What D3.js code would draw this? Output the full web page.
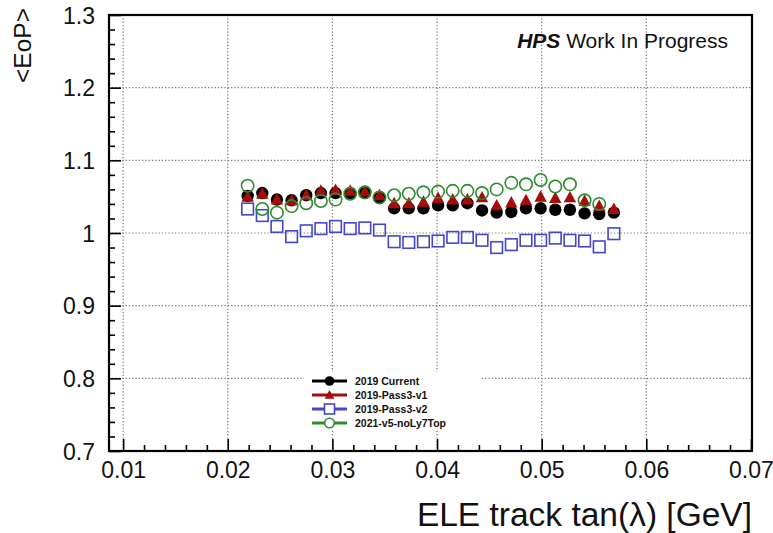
<!DOCTYPE html>
<html>
<head>
<meta charset="utf-8">
<script src="https://cdn.jsdelivr.net/npm/d3@7"></script>
<style>
  html, body { margin: 0; padding: 0; background: #fff; }
  svg { display: block; font-family: "Liberation Sans", Arial, Helvetica, sans-serif; }
</style>
</head>
<body>
<svg id="chart" width="773" height="533"></svg>
<script>
// Track tan(lambda) bin centres
const tanLambda = [0.0219, 0.0233, 0.0247, 0.0261, 0.0275, 0.0289, 0.0303, 0.0317, 0.0331, 0.0345,
                   0.0359, 0.0373, 0.0387, 0.0401, 0.0415, 0.0429, 0.0443, 0.0457, 0.0471, 0.0485,
                   0.0499, 0.0513, 0.0527, 0.0541, 0.0555, 0.0569];

// <E/p> per bin for each reconstruction pass
const current2019 = [1.051, 1.055, 1.046, 1.045, 1.052, 1.055, 1.055, 1.055, 1.055, 1.048,
                     1.034, 1.034, 1.034, 1.038, 1.038, 1.041, 1.031, 1.028, 1.029, 1.034,
                     1.034, 1.032, 1.032, 1.027, 1.026, 1.028];
const pass3v1 = [1.050, 1.054, 1.046, 1.045, 1.052, 1.058, 1.059, 1.058, 1.057, 1.052,
                 1.041, 1.041, 1.043, 1.048, 1.046, 1.046, 1.049, 1.038, 1.042, 1.045,
                 1.050, 1.048, 1.049, 1.044, 1.037, 1.033];
const pass3v2 = [1.033, 1.024, 1.009, 0.995, 1.003, 1.006, 1.009, 1.006, 1.007, 1.004,
                 0.988, 0.987, 0.988, 0.989, 0.994, 0.994, 0.990, 0.980, 0.984, 0.990,
                 0.990, 0.993, 0.990, 0.989, 0.981, 0.999];
const v5noLy7Top = [1.065, 1.033, 1.028, 1.037, 1.041, 1.044, 1.046, 1.054, 1.056, 1.049,
                    1.052, 1.054, 1.056, 1.057, 1.058, 1.058, 1.055, 1.060, 1.069, 1.067,
                    1.073, 1.064, 1.067, 1.045, 1.040];

const legendLabels = ["2019 Current", "2019-Pass3-v1", "2019-Pass3-v2", "2021-v5-noLy7Top"];
const xTickValues = [0.01, 0.02, 0.03, 0.04, 0.05, 0.06, 0.07];
const yTickValues = [0.7, 0.8, 0.9, 1.0, 1.1, 1.2, 1.3];

const svg = d3.select("#chart");
const frame = { left: 109, right: 752, top: 15, bottom: 451 };

const x = d3.scaleLinear().domain([0.00865, 0.0701]).range([frame.left, frame.right]);
const y = d3.scaleLinear().domain([0.7, 1.3]).range([frame.bottom, frame.top]);

const fmtY = v => (Math.abs(v - 1) < 1e-9 ? "1" : d3.format(".1f")(v));
const fmtX = d3.format(".2f");

// Dotted grid at the major divisions
const grid = svg.append("g").attr("stroke", "#7a7a7a").attr("stroke-width", 1.2)
  .attr("stroke-dasharray", "1.3,2");
grid.selectAll("line.gx").data(xTickValues.filter(v => v < 0.0695)).join("line")
  .attr("x1", d => x(d)).attr("x2", d => x(d))
  .attr("y1", frame.top).attr("y2", frame.bottom);
grid.selectAll("line.gy").data(yTickValues.filter(v => v > 0.75 && v < 1.25)).join("line")
  .attr("x1", frame.left).attr("x2", frame.right)
  .attr("y1", d => y(d)).attr("y2", d => y(d));

// Minor ticks
const xMinor = d3.range(0.010, 0.0701, 0.002).filter(v => Math.abs(v / 0.01 - Math.round(v / 0.01)) > 1e-6);
const yMinor = d3.range(0.70, 1.30, 0.02).filter(v => Math.abs(v / 0.1 - Math.round(v / 0.1)) > 1e-6);

const xAxisMinor = svg.append("g").attr("transform", `translate(0,${frame.bottom})`)
  .call(d3.axisBottom(x).tickValues(xMinor).tickSize(-6).tickFormat(""));
const yAxisMinor = svg.append("g").attr("transform", `translate(${frame.left},0)`)
  .call(d3.axisLeft(y).tickValues(yMinor).tickSize(-6).tickFormat(""));

// Major ticks with labels
const xAxis = svg.append("g").attr("transform", `translate(0,${frame.bottom})`)
  .call(d3.axisBottom(x).tickValues(xTickValues).tickSize(-12).tickPadding(14).tickFormat(fmtX));
const yAxis = svg.append("g").attr("transform", `translate(${frame.left},0)`)
  .call(d3.axisLeft(y).tickValues(yTickValues).tickSize(-12).tickPadding(14).tickFormat(fmtY));

[xAxisMinor, yAxisMinor, xAxis, yAxis].forEach(g => {
  g.select(".domain").remove();
  g.selectAll(".tick line").attr("stroke", "#000").attr("stroke-width", 1.6);
});
xAxis.selectAll(".tick text").attr("font-size", 23).attr("fill", "#111")
  .attr("font-family", "Liberation Sans, Arial, sans-serif").attr("dy", "0.55em");
yAxis.selectAll(".tick text").attr("font-size", 23).attr("fill", "#111")
  .attr("font-family", "Liberation Sans, Arial, sans-serif").attr("x", -14).attr("dy", "0.36em");

// Frame
svg.append("rect")
  .attr("x", frame.left).attr("y", frame.top)
  .attr("width", frame.right - frame.left).attr("height", frame.bottom - frame.top)
  .attr("fill", "none").attr("stroke", "#000").attr("stroke-width", 2.2);

// Axis titles
svg.append("text")
  .attr("x", frame.right).attr("y", 526)
  .attr("text-anchor", "end").attr("font-size", 33.5).attr("fill", "#111")
  .text("ELE track tan(λ) [GeV]");
svg.append("text")
  .attr("transform", "translate(31,8) rotate(-90)")
  .attr("text-anchor", "end").attr("font-size", 24.5).attr("fill", "#111")
  .text("<EoP>");

// Experiment label
const lab = svg.append("text")
  .attr("x", 728).attr("y", 48).attr("text-anchor", "end").attr("font-size", 21).attr("fill", "#111");
lab.append("tspan").attr("font-weight", "bold").attr("font-style", "italic").text("HPS");
lab.append("tspan").text(" Work In Progress");

// Marker shapes
const markers = {
  dot: (g, r) => g.append("circle").attr("r", r),
  tri: (g, r) => g.append("path").attr("d", `M0,${-r * 1.05}L${r},${r * 0.8}L${-r},${r * 0.8}Z`),
  square: (g, r) => g.append("rect").attr("x", -r).attr("y", -r).attr("width", 2 * r).attr("height", 2 * r),
  ring: (g, r) => g.append("circle").attr("r", r)
};

const series = [
  { name: legendLabels[0], values: current2019, color: "#000000", shape: "dot", fill: true, r: 6.2 },
  { name: legendLabels[1], values: pass3v1, color: "#a50d0d", shape: "tri", fill: true, r: 6.2 },
  { name: legendLabels[2], values: pass3v2, color: "#4646c8", shape: "square", fill: false, r: 5.8 },
  { name: legendLabels[3], values: v5noLy7Top, color: "#2e8b2e", shape: "ring", fill: false, r: 6.2 }
];

const plot = svg.append("g");
series.forEach(s => {
  const pts = plot.append("g");
  s.values.forEach((v, i) => {
    const g = pts.append("g").attr("transform", `translate(${x(tanLambda[i])},${y(v)})`);
    const m = markers[s.shape](g, s.r);
    if (s.fill) m.attr("fill", s.color).attr("stroke", "none");
    else m.attr("fill", "none").attr("stroke", s.color).attr("stroke-width", 1.6);
  });
});

// Legend
const leg = svg.append("g");
leg.append("rect").attr("x", 304).attr("y", 372).attr("width", 176).attr("height", 58).attr("fill", "#fff");
const rowY = [381, 395, 409, 423];
series.forEach((s, i) => {
  const g = leg.append("g").attr("transform", `translate(0,${rowY[i]})`);
  g.append("line").attr("x1", 312).attr("x2", 347).attr("stroke", s.color).attr("stroke-width", 3.2);
  const mg = g.append("g").attr("transform", "translate(329.5,0)");
  const m = markers[s.shape](mg, s.shape === "square" ? 5 : 4.8);
  if (s.fill) m.attr("fill", s.color);
  else m.attr("fill", "#fff").attr("stroke", s.color).attr("stroke-width", 1.6);
  g.append("text").attr("x", 355).attr("y", 0).attr("dy", "0.36em")
    .attr("font-size", 10.5).attr("font-weight", "bold").attr("fill", "#111").text(s.name);
});
</script>
</body>
</html>
